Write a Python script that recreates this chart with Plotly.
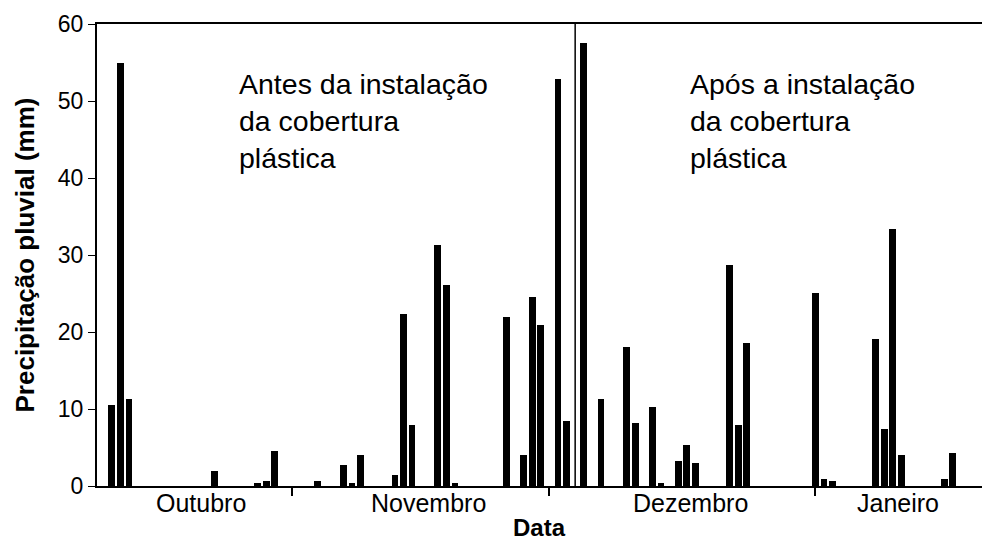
import plotly.graph_objects as go
import pandas as pd

# Daily rainfall (mm); dates (year arbitrary, not shown on chart)
dates = [
    "2008-10-11", "2008-10-12", "2008-10-13", "2008-10-23", "2008-10-28", "2008-10-29", "2008-10-30",
    "2008-11-04", "2008-11-07", "2008-11-08", "2008-11-09", "2008-11-13", "2008-11-14", "2008-11-15",
    "2008-11-18", "2008-11-19", "2008-11-20", "2008-11-26", "2008-11-28", "2008-11-29", "2008-11-30",
    "2008-12-02", "2008-12-03", "2008-12-05", "2008-12-07", "2008-12-10", "2008-12-11", "2008-12-13",
    "2008-12-14", "2008-12-16", "2008-12-17", "2008-12-18", "2008-12-22", "2008-12-23", "2008-12-24",
    "2009-01-01", "2009-01-02", "2009-01-03", "2009-01-08", "2009-01-09", "2009-01-10", "2009-01-11",
    "2009-01-16", "2009-01-17",
]
rain_mm = [
    10.5, 54.9, 11.3, 1.9, 0.4, 0.6, 4.5,
    0.6, 2.7, 0.4, 4.0, 1.4, 22.4, 7.9,
    31.3, 26.1, 0.4, 21.9, 4.0, 24.5, 20.9,
    52.9, 8.4, 57.5, 11.3, 18.0, 8.2, 10.3,
    0.4, 3.2, 5.3, 3.0, 28.7, 7.9, 18.6,
    25.1, 0.9, 0.6, 19.1, 7.4, 33.4, 4.0,
    0.9, 4.3,
]
month_labels = ["Outubro", "Novembro", "Dezembro", "Janeiro"]
month_starts = ["2008-11-01", "2008-12-01", "2009-01-01"]
cover_date = "2008-12-04"
y_ticks = [0, 10, 20, 30, 40, 50, 60]

FONT = "Liberation Sans, Arial, sans-serif"
day = pd.Timedelta(days=1)
t0 = pd.Timestamp(dates[0])

fig = go.Figure()
fig.add_trace(go.Bar(
    x=pd.to_datetime(dates), y=rain_mm,
    width=0.78 * 86400000,
    marker=dict(color="black", line=dict(width=0)),
    showlegend=False,
))

x_left = t0 - 1.71 * day
x_right = t0 + 101.4 * day

fig.update_layout(
    width=982, height=540,
    margin=dict(l=97, r=0, t=24, b=54),
    plot_bgcolor="white", paper_bgcolor="white",
    font=dict(family=FONT, color="black"),
    bargap=0,
    xaxis=dict(
        type="date", range=[x_left, x_right],
        showgrid=False, zeroline=False,
        showline=True, linecolor="black", linewidth=2, mirror=True,
        tickvals=pd.to_datetime(month_starts), ticks="outside", ticklen=8,
        tickwidth=1.5, tickcolor="black", showticklabels=False,
    ),
    yaxis=dict(
        range=[0, 60], tickvals=y_ticks,
        showgrid=False, zeroline=False,
        showline=True, linecolor="black", linewidth=2, mirror=False,
        ticks="outside", ticklen=7, tickwidth=1, tickcolor="black",
        tickfont=dict(size=23, family=FONT, color="black"),
        title=dict(text="<b>Precipitação pluvial (mm)</b>",
                   font=dict(size=26, family=FONT, color="black"), standoff=16),
    ),
)

# vertical line marking installation of the plastic cover
fig.add_shape(type="line", xref="x", yref="paper",
              x0=pd.Timestamp(cover_date), x1=pd.Timestamp(cover_date), y0=0, y1=1,
              line=dict(color="black", width=1.5))

# month labels
label_pos = [10.4, 36.9, 67.4, 91.6]
for lab, off in zip(month_labels, label_pos):
    fig.add_annotation(x=t0 + off * day, y=0, xref="x", yref="paper",
                       text=lab, showarrow=False, yanchor="middle", yshift=-17,
                       font=dict(size=25, family=FONT, color="black"))

fig.add_annotation(x=0.5, xref="paper", y=0, yref="paper", text="<b>Data</b>",
                   showarrow=False, yanchor="middle", yshift=-41,
                   xanchor="center", font=dict(size=24, family=FONT, color="black"))

fig.add_annotation(x=t0 + 14.6 * day, y=0.909, xref="x", yref="paper",
                   text="Antes da instalação<br>da cobertura<br>plástica",
                   showarrow=False, xanchor="left", yanchor="top", align="left",
                   font=dict(size=28.5, family=FONT, color="black"))
fig.add_annotation(x=t0 + 67.1 * day, y=0.909, xref="x", yref="paper",
                   text="Após a instalação<br>da cobertura<br>plástica",
                   showarrow=False, xanchor="left", yanchor="top", align="left",
                   font=dict(size=28.5, family=FONT, color="black"))

fig.write_html("out.html")
